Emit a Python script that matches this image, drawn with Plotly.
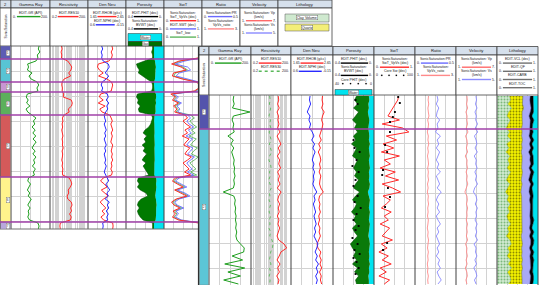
import math
import plotly.graph_objects as go

# ======================= DATA : window 1 (back panel) =======================
DEPTH_1 = [1000, 1003, 1006, 1009, 1012, 1015, 1018, 1021, 1024, 1027,
           1030, 1033, 1036, 1039, 1042, 1045, 1048, 1051, 1054, 1057,
           1060, 1063, 1066, 1069, 1072, 1075, 1078, 1081, 1084, 1087,
           1090, 1093, 1096, 1099, 1102, 1105, 1108, 1111, 1114, 1117,
           1120, 1123, 1126, 1129, 1132, 1135, 1138, 1141, 1144, 1147,
           1150, 1153, 1156, 1159, 1162, 1165, 1168, 1171, 1174, 1177,
           1180, 1183]
ZONE_TOPS_1 = [1000, 1013, 1036, 1046, 1069, 1131, 1176]
ZONE_BASE_1 = 1183
ZONE_LABELS_1 = ["1", "2", "3", "4", "5", "6", "7"]

GR_1 = [144, 140, 148, 135, 138, 128, 85, 90, 84, 108,
        92, 103, 134, 142, 133, 138, 84, 78, 88, 80,
        97, 77, 86, 110, 128, 115, 122, 108, 124, 112,
        127, 113, 129, 117, 108, 124, 112, 128, 116, 122,
        110, 125, 115, 120, 90, 86, 100, 92, 84, 96,
        88, 104, 93, 86, 98, 88, 92, 86, 95, 138,
        144, 140]
RES_1 = [1.6, 1.8, 1.5, 1.7, 1.6, 5.0, 7.5, 10.5, 9.0, 6.0,
         8.5, 2.6, 1.8, 1.7, 1.9, 1.8, 2.4, 2.2, 9.5, 11.5,
         10.0, 5.5, 6.5, 2.6, 1.9, 2.1, 1.8, 2.0, 1.7, 1.9,
         2.1, 1.8, 2.0, 1.9, 2.2, 1.8, 2.0, 1.9, 1.7, 2.0,
         1.8, 2.1, 1.9, 2.0, 6.5, 9.0, 10.5, 8.0, 5.5, 6.0,
         4.5, 5.0, 9.5, 11.0, 8.5, 10.0, 7.0, 9.5, 8.0, 1.3,
         1.2, 1.3]
RHOB_1 = [2.28, 2.30, 2.26, 2.29, 2.27, 2.20, 1.92, 1.90, 1.95, 2.05,
          1.93, 2.15, 2.27, 2.30, 2.28, 2.26, 1.98, 1.95, 2.05, 1.92,
          2.10, 1.96, 2.02, 2.22, 2.26, 2.29, 2.25, 2.28, 2.30, 2.26,
          2.29, 2.27, 2.25, 2.30, 2.28, 2.26, 2.29, 2.27, 2.30, 2.26,
          2.28, 2.25, 2.29, 2.27, 2.05, 1.98, 2.08, 2.15, 2.00, 2.10,
          2.18, 2.06, 1.97, 2.04, 2.12, 2.02, 2.09, 1.99, 2.06, 2.30,
          2.31, 2.30]
NPHI_1 = [0.33, 0.31, 0.34, 0.32, 0.33, 0.30, 0.20, 0.18, 0.22, 0.26,
          0.19, 0.24, 0.32, 0.34, 0.31, 0.33, 0.22, 0.20, 0.24, 0.19,
          0.23, 0.21, 0.25, 0.28, 0.27, 0.25, 0.28, 0.26, 0.24, 0.27,
          0.25, 0.28, 0.26, 0.24, 0.27, 0.25, 0.28, 0.26, 0.25, 0.27,
          0.24, 0.26, 0.28, 0.25, 0.22, 0.19, 0.25, 0.21, 0.17, 0.23,
          0.20, 0.26, 0.18, 0.22, 0.19, 0.24, 0.20, 0.23, 0.21, 0.31,
          0.30, 0.31]
PHIT_1 = [0.12, 0.12, 0.13, 0.12, 0.12, 0.20, 0.29, 0.28, 0.26, 0.27,
          0.23, 0.18, 0.13, 0.12, 0.12, 0.13, 0.28, 0.29, 0.27, 0.28,
          0.25, 0.27, 0.26, 0.13, 0.12, 0.13, 0.14, 0.16, 0.20, 0.22,
          0.18, 0.21, 0.19, 0.23, 0.20, 0.22, 0.18, 0.21, 0.23, 0.19,
          0.22, 0.20, 0.18, 0.16, 0.27, 0.28, 0.26, 0.28, 0.25, 0.19,
          0.17, 0.24, 0.27, 0.28, 0.26, 0.28, 0.27, 0.25, 0.22, 0.12,
          0.12, 0.12]
BVWT_1 = [0.105, 0.105, 0.105, 0.105, 0.105, 0.095, 0.090, 0.085, 0.090, 0.088,
          0.092, 0.095, 0.105, 0.105, 0.105, 0.100, 0.085, 0.082, 0.088, 0.084,
          0.090, 0.086, 0.088, 0.100, 0.105, 0.104, 0.102, 0.100, 0.098, 0.100,
          0.102, 0.099, 0.100, 0.098, 0.101, 0.099, 0.102, 0.100, 0.098, 0.101,
          0.099, 0.100, 0.102, 0.103, 0.082, 0.080, 0.084, 0.080, 0.083, 0.090,
          0.092, 0.085, 0.080, 0.078, 0.082, 0.080, 0.083, 0.085, 0.088, 0.105,
          0.105, 0.105]
SWT_VPVS_1 = [0.95, 0.97, 0.93, 0.96, 0.90, 0.40, 0.20, 0.45, 0.58, 0.25,
              0.22, 0.48, 0.85, 0.95, 0.92, 0.80, 0.18, 0.30, 0.22, 0.38,
              0.25, 0.34, 0.28, 0.55, 0.62, 0.50, 0.58, 0.70, 0.55, 0.62,
              0.48, 0.66, 0.58, 0.52, 0.68, 0.60, 0.55, 0.72, 0.62, 0.50,
              0.58, 0.66, 0.54, 0.70, 0.30, 0.22, 0.35, 0.50, 0.28, 0.45,
              0.60, 0.32, 0.20, 0.26, 0.42, 0.24, 0.30, 0.22, 0.38, 0.92,
              0.96, 0.94]
SWT_EDIT_1 = [0.98, 1.00, 0.97, 0.99, 0.95, 0.55, 0.30, 0.62, 0.70, 0.40,
              0.32, 0.60, 0.92, 0.98, 0.97, 0.88, 0.25, 0.38, 0.30, 0.46,
              0.34, 0.42, 0.36, 0.62, 0.70, 0.60, 0.66, 0.78, 0.64, 0.72,
              0.58, 0.75, 0.66, 0.60, 0.76, 0.70, 0.62, 0.80, 0.70, 0.60,
              0.66, 0.74, 0.62, 0.78, 0.40, 0.30, 0.45, 0.60, 0.35, 0.55,
              0.68, 0.40, 0.28, 0.34, 0.52, 0.32, 0.38, 0.30, 0.46, 0.97,
              0.99, 0.98]
SWT_LOW_1 = [0.96, 0.98, 0.95, 0.97, 0.92, 0.45, 0.24, 0.50, 0.62, 0.30,
             0.26, 0.52, 0.88, 0.96, 0.94, 0.84, 0.22, 0.33, 0.26, 0.42,
             0.29, 0.38, 0.32, 0.70, 0.80, 0.68, 0.75, 0.86, 0.72, 0.82,
             0.66, 0.85, 0.76, 0.70, 0.88, 0.78, 0.72, 0.90, 0.80, 0.68,
             0.76, 0.84, 0.70, 0.86, 0.34, 0.25, 0.40, 0.55, 0.30, 0.50,
             0.64, 0.36, 0.23, 0.30, 0.47, 0.28, 0.34, 0.26, 0.42, 0.95,
             0.97, 0.96]

# ======================= DATA : window 2 (front panel) =======================
DEPTH_2 = [1028, 1032, 1036, 1040, 1044, 1048, 1052, 1056, 1060, 1064,
           1068, 1072, 1076, 1080, 1084, 1088, 1092, 1096, 1100, 1104,
           1108, 1112, 1116, 1120, 1124, 1128, 1132, 1136, 1140, 1144,
           1148, 1152, 1156, 1160, 1164, 1168, 1172, 1176, 1180, 1184,
           1188, 1192, 1196, 1200, 1204, 1208, 1212, 1216]
ZONE_TOPS_2 = [1027, 1061]
ZONE_BASE_2 = 1217
ZONE_LABELS_2 = ["1", "2"]

GR_2 = [118, 115, 120, 112, 195, 116, 110, 118, 114, 120,
        90, 116, 104, 118, 108, 115, 120, 117, 122, 119,
        124, 118, 121, 116, 68, 118, 125, 122, 127, 124,
        129, 126, 130, 127, 132, 128, 133, 150, 168, 165,
        110, 160, 75, 170, 90, 150, 70, 140]
RES_DEEP_2 = [22, 24, 20, 26, 18, 23, 21, 25, 20, 30,
              18, 26, 35, 22, 30, 19, 28, 24, 33, 20,
              27, 22, 30, 19, 36, 24, 20, 28, 22, 26,
              19, 25, 21, 28, 23, 18, 24, 60, 95, 35,
              26, 18, 30, 20, 27, 17, 25, 21]
RES_SHAL_2 = [5.0, 5.5, 4.8, 6.0, 5.2, 4.5, 5.8, 5.0, 6.2, 4.6,
              5.4, 6.5, 4.8, 5.6, 7.0, 5.0, 4.4, 5.8, 6.4, 4.9,
              5.5, 4.3, 5.7, 6.6, 4.7, 5.2, 4.5, 6.1, 5.0, 4.6,
              5.9, 4.8, 5.3, 4.4, 6.0, 5.1, 7.5, 9.0, 8.0, 6.0,
              5.5, 4.8, 6.3, 5.0, 5.8, 4.6, 5.4, 5.0]
RHOB_2 = [2.40, 2.39, 2.41, 2.38, 2.44, 2.40, 2.38, 2.41, 2.39, 2.36,
          2.33, 2.37, 2.31, 2.35, 2.30, 2.34, 2.36, 2.33, 2.35, 2.32,
          2.36, 2.34, 2.33, 2.36, 2.42, 2.33, 2.31, 2.34, 2.32, 2.35,
          2.31, 2.33, 2.30, 2.34, 2.32, 2.35, 2.31, 2.27, 2.29, 2.36,
          2.33, 2.37, 2.34, 2.38, 2.33, 2.37, 2.35, 2.38]
NPHI_2 = [0.26, 0.27, 0.25, 0.28, 0.31, 0.26, 0.28, 0.25, 0.27, 0.22,
          0.19, 0.23, 0.18, 0.21, 0.17, 0.20, 0.22, 0.19, 0.21, 0.18,
          0.20, 0.19, 0.21, 0.18, 0.14, 0.19, 0.17, 0.20, 0.18, 0.16,
          0.19, 0.17, 0.15, 0.18, 0.16, 0.19, 0.15, 0.12, 0.14, 0.17,
          0.13, 0.16, 0.11, 0.15, 0.12, 0.16, 0.13, 0.15]
PHIT_2 = [0.17, 0.19, 0.16, 0.20, 0.15, 0.18, 0.21, 0.17, 0.19, 0.16,
          0.20, 0.18, 0.22, 0.17, 0.19, 0.21, 0.16, 0.18, 0.20, 0.17,
          0.19, 0.15, 0.18, 0.20, 0.14, 0.18, 0.21, 0.17, 0.19, 0.22,
          0.18, 0.20, 0.17, 0.21, 0.19, 0.16, 0.20, 0.23, 0.21, 0.18,
          0.20, 0.17, 0.21, 0.16, 0.19, 0.15, 0.18, 0.17]
BVWT_2 = [0.050, 0.045, 0.055, 0.050, 0.060, 0.050, 0.045, 0.050, 0.055, 0.050,
          0.045, 0.050, 0.040, 0.050, 0.045, 0.040, 0.050, 0.045, 0.040, 0.050,
          0.045, 0.050, 0.040, 0.045, 0.060, 0.050, 0.040, 0.045, 0.050, 0.040,
          0.045, 0.050, 0.040, 0.045, 0.050, 0.055, 0.045, 0.040, 0.045, 0.050,
          0.045, 0.050, 0.040, 0.050, 0.045, 0.055, 0.050, 0.050]
SWT_2 = [0.60, 0.58, 0.52, 0.45, 0.40, 0.34, 0.62, 0.20, 0.70, 0.85,
         0.30, 0.55, 0.22, 0.48, 0.18, 0.62, 0.25, 0.40, 0.15, 0.52,
         0.28, 0.60, 0.20, 0.45, 0.65, 0.22, 0.40, 0.30, 0.18, 0.42,
         0.25, 0.35, 0.15, 0.38, 0.28, 0.20, 0.45, 0.18, 0.32, 0.12,
         0.35, 0.20, 0.42, 0.15, 0.30, 0.12, 0.38, 0.25]
CORE_PHI_DEPTH_2 = [1032, 1036, 1072, 1080, 1084, 1092, 1098, 1104, 1112, 1118,
                    1128, 1134, 1140, 1146, 1152, 1158, 1162, 1170, 1176, 1182,
                    1186, 1190, 1194, 1200, 1206]
CORE_PHI_2 = [18, 16, 20, 19, 14, 17, 21, 15, 18, 20,
              16, 19, 13, 17, 20, 15, 18, 21, 16, 19,
              14, 20, 17, 15, 18]
CORE_SW_DEPTH_2 = [1029, 1035, 1044, 1049, 1054, 1064, 1077, 1084, 1102, 1107,
                   1120, 1129, 1139, 1175, 1182]
CORE_SW_2 = [59, 63, 51, 46, 39, 39, 27, 32, 22, 20, 34, 39, 27, 32, 22]
PR_2 = [0.27, 0.28, 0.26, 0.29, 0.27, 0.26, 0.30, 0.27, 0.28, 0.25,
        0.31, 0.27, 0.29, 0.26, 0.30, 0.28, 0.26, 0.29, 0.27, 0.31,
        0.26, 0.28, 0.30, 0.27, 0.32, 0.28, 0.26, 0.29, 0.27, 0.30,
        0.26, 0.28, 0.31, 0.27, 0.29, 0.26, 0.28, 0.30, 0.27, 0.29,
        0.26, 0.30, 0.28, 0.31, 0.27, 0.29, 0.32, 0.28]
VPVS_2 = [1.66, 1.64, 1.67, 1.63, 1.65, 1.68, 1.62, 1.66, 1.64, 1.60,
          1.65, 1.63, 1.67, 1.62, 1.65, 1.61, 1.64, 1.66, 1.62, 1.65,
          1.63, 1.66, 1.61, 1.64, 1.60, 1.65, 1.63, 1.66, 1.62, 1.64,
          1.61, 1.65, 1.63, 1.60, 1.64, 1.62, 1.66, 1.63, 1.61, 1.65,
          1.62, 1.64, 1.60, 1.63, 1.61, 1.65, 1.62, 1.64]
VP_2 = [2.60, 2.65, 2.55, 2.70, 2.45, 2.62, 2.58, 2.68, 2.50, 2.75,
        2.40, 2.60, 2.66, 2.52, 2.70, 2.35, 2.62, 2.58, 2.68, 2.48,
        2.64, 2.56, 2.72, 2.45, 2.30, 2.60, 2.66, 2.54, 2.70, 2.58,
        2.62, 2.50, 2.68, 2.56, 2.64, 2.52, 2.70, 2.40, 2.60, 2.55,
        2.66, 2.48, 2.62, 2.36, 2.58, 2.66, 2.45, 2.60]
VS_2 = [2.95, 3.00, 2.90, 3.05, 2.85, 2.98, 2.92, 3.10, 2.88, 3.12,
        2.80, 2.96, 3.04, 2.86, 3.08, 2.78, 2.98, 2.92, 3.06, 2.84,
        3.00, 2.90, 3.10, 2.82, 2.70, 2.96, 3.04, 2.88, 3.08, 2.94,
        3.00, 2.86, 3.06, 2.92, 3.02, 2.88, 3.10, 2.76, 2.96, 2.90,
        3.04, 2.84, 3.00, 2.74, 2.94, 3.04, 2.80, 2.96]
VCL_2 = [0.30, 0.33, 0.26, 0.36, 0.28, 0.24, 0.32, 0.27, 0.22, 0.30,
         0.25, 0.34, 0.23, 0.29, 0.21, 0.31, 0.26, 0.30, 0.24, 0.33,
         0.27, 0.22, 0.31, 0.25, 0.20, 0.28, 0.24, 0.32, 0.26, 0.30,
         0.23, 0.27, 0.33, 0.25, 0.29, 0.22, 0.31, 0.35, 0.26, 0.30,
         0.24, 0.33, 0.27, 0.36, 0.25, 0.31, 0.34, 0.28]
QF_2 = [0.33, 0.30, 0.36, 0.29, 0.33, 0.37, 0.30, 0.35, 0.38, 0.31,
        0.35, 0.28, 0.37, 0.32, 0.38, 0.30, 0.35, 0.31, 0.36, 0.29,
        0.34, 0.37, 0.30, 0.35, 0.38, 0.32, 0.36, 0.29, 0.34, 0.31,
        0.37, 0.33, 0.28, 0.35, 0.32, 0.37, 0.30, 0.27, 0.34, 0.31,
        0.36, 0.29, 0.33, 0.26, 0.35, 0.30, 0.27, 0.33]
CARB_2 = [0.18, 0.17, 0.19, 0.18, 0.20, 0.17, 0.19, 0.18, 0.20, 0.19,
          0.18, 0.20, 0.19, 0.21, 0.18, 0.20, 0.19, 0.21, 0.18, 0.20,
          0.19, 0.18, 0.21, 0.19, 0.20, 0.21, 0.19, 0.20, 0.21, 0.19,
          0.20, 0.21, 0.20, 0.19, 0.21, 0.20, 0.21, 0.20, 0.19, 0.21,
          0.20, 0.19, 0.21, 0.20, 0.19, 0.21, 0.20, 0.19]
TOC_2 = [0.07, 0.08, 0.07, 0.06, 0.08, 0.07, 0.09, 0.07, 0.06, 0.08,
         0.07, 0.08, 0.06, 0.07, 0.08, 0.07, 0.09, 0.07, 0.06, 0.08,
         0.07, 0.08, 0.07, 0.06, 0.09, 0.07, 0.08, 0.06, 0.07, 0.08,
         0.07, 0.09, 0.07, 0.06, 0.08, 0.07, 0.08, 0.07, 0.06, 0.08,
         0.07, 0.09, 0.07, 0.06, 0.08, 0.07, 0.08, 0.07]

TRACK_TITLES = ["Gamma Ray", "Resistivity", "Den Neu", "Porosity", "SwT",
                "Ratio", "Velocity", "Lithology"]

# ======================= geometry / styles =======================
W, H = 540, 285
def X(p): return p / W
def Y(p): return 1 - p / H

FONT = "Liberation Sans"
GREEN, RED, BLUE = "#1f9e1f", "#ff2a2a", "#2a2aff"
CYAN = "#00e4f0"
PURPLE = "#a040a8"
SEP = "#404040"
GRID = "#d2d2d2"

B1 = [0, 11, 50, 88, 126, 164, 202, 240, 278, 332]     # window 1 columns
B2 = [199, 209, 251, 291, 333, 374, 415, 456, 497, 538]  # window 2 columns
W1_TITLE, W1_HEAD, W1_BOT = (0, 8), 46, 229
W2_TITLE, W2_HEAD, W2_BOT = (46.5, 55), 95, 285
CLIP1 = 198

fig = go.Figure()
AX = {}
_n = [0]

def new_x(x0, x1, rng, anchor, typ="linear", dtick=None, overlay=None):
    _n[0] += 1
    i = _n[0]
    key = "xaxis" if i == 1 else "xaxis%d" % i
    ref = "x" if i == 1 else "x%d" % i
    d = dict(domain=[X(x0), X(x1)], range=rng, type=typ, anchor=anchor,
             showticklabels=False, ticks="", zeroline=False, showline=False,
             fixedrange=True)
    if overlay:
        d.update(overlaying=overlay, showgrid=False, visible=False)
    else:
        d.update(showgrid=True, gridcolor=GRID, gridwidth=0.6, dtick=dtick)
        if typ == "linear":
            d["tick0"] = min(rng)
    AX[key] = d
    return ref

def add_line(xs, ys, xa, ya, color, width=1.0, dash="solid"):
    fig.add_trace(go.Scatter(x=xs, y=ys, xaxis=xa, yaxis=ya, mode="lines",
                             line=dict(color=color, width=width, dash=dash),
                             showlegend=False, hoverinfo="skip"))

def add_fill(xs, ys, xa, ya, fill, color, lcolor=None, width=0, pattern=None):
    kw = dict(x=xs, y=ys, xaxis=xa, yaxis=ya, mode="lines", fill=fill,
              fillcolor=color, line=dict(color=lcolor or color, width=width),
              showlegend=False, hoverinfo="skip")
    if pattern:
        kw["fillpattern"] = pattern
    fig.add_trace(go.Scatter(**kw))

LOGR = [math.log10(0.2), math.log10(200)]

# ---- window 1 tracks ----
xg1 = new_x(11, 50, [0, 200], "y", dtick=50)
xr1 = new_x(50, 88, LOGR, "y", typ="log", dtick="D1")
xd1 = new_x(88, 126, [1.65, 2.65], "y", dtick=0.25)
xn1 = new_x(88, 126, [0.6, -0.15], "y", overlay=xd1)
xp1 = new_x(126, 164, [0.4, 0.0], "y", dtick=0.1)
xs1 = new_x(164, CLIP1, [0.0, (CLIP1 - 164) / 38.0], "y", dtick=0.25)

# ---- window 2 tracks ----
xg2 = new_x(209, 251, [0, 200], "y2", dtick=50)
xr2 = new_x(251, 291, LOGR, "y2", typ="log", dtick="D1")
xd2 = new_x(291, 333, [1.65, 2.65], "y2", dtick=0.25)
xn2 = new_x(291, 333, [0.6, -0.15], "y2", overlay=xd2)
xp2 = new_x(333, 374, [0.4, 0.0], "y2", dtick=0.1)
xc2 = new_x(333, 374, [40, 0], "y2", overlay=xp2)
xs2 = new_x(374, 415, [0, 1], "y2", dtick=0.25)
xcs2 = new_x(374, 415, [0, 100], "y2", overlay=xs2)
xpr2 = new_x(415, 456, [0, 0.5], "y2", dtick=0.125)
xvv2 = new_x(415, 456, [1, 3], "y2", overlay=xpr2)
xvp2 = new_x(456, 497, [1, 7], "y2", dtick=1.5)
xvs2 = new_x(456, 497, [1, 5], "y2", overlay=xvp2)
xl2 = new_x(497, 538, [0, 1], "y2", dtick=0.25)

# ---- window 1 curves ----
add_line(GR_1, DEPTH_1, xg1, "y", GREEN)
add_line(RES_1, DEPTH_1, xr1, "y", RED)
add_line(RHOB_1, DEPTH_1, xd1, "y", RED)
add_line(NPHI_1, DEPTH_1, xn1, "y", BLUE)
add_fill(BVWT_1, DEPTH_1, xp1, "y", "tozerox", CYAN)
add_fill(PHIT_1, DEPTH_1, xp1, "y", "tonextx", "#007a00", lcolor="#004d00", width=0.6)
add_line(SWT_LOW_1, DEPTH_1, xs1, "y", "#5fb55f", 0.9)
add_line(SWT_EDIT_1, DEPTH_1, xs1, "y", "#6a6aff", 0.9)
add_line(SWT_VPVS_1, DEPTH_1, xs1, "y", RED, 1.0)

# ---- window 2 curves ----
add_line(GR_2, DEPTH_2, xg2, "y2", GREEN)
add_line(RES_SHAL_2, DEPTH_2, xr2, "y2", "#5ab85a", 0.9, "dot")
add_line(RES_DEEP_2, DEPTH_2, xr2, "y2", RED)
add_line(RHOB_2, DEPTH_2, xd2, "y2", RED)
add_line(NPHI_2, DEPTH_2, xn2, "y2", BLUE)
add_fill(BVWT_2, DEPTH_2, xp2, "y2", "tozerox", CYAN)
add_fill(PHIT_2, DEPTH_2, xp2, "y2", "tonextx", "#0a7a0a", lcolor="#004d00", width=0.6)
fig.add_trace(go.Scatter(x=CORE_PHI_2, y=CORE_PHI_DEPTH_2, xaxis=xc2, yaxis="y2",
                         mode="markers", marker=dict(color="black", size=1.9, symbol="square"),
                         showlegend=False, hoverinfo="skip"))
add_line(SWT_2, DEPTH_2, xs2, "y2", RED, 1.0)
fig.add_trace(go.Scatter(x=CORE_SW_2, y=CORE_SW_DEPTH_2, xaxis=xcs2, yaxis="y2",
                         mode="markers", marker=dict(color="black", size=1.9, symbol="square"),
                         showlegend=False, hoverinfo="skip"))
add_line(PR_2, DEPTH_2, xpr2, "y2", "#8a8aff", 0.9)
add_line(VPVS_2, DEPTH_2, xvv2, "y2", "#ff8a8a", 0.9)
add_line(VP_2, DEPTH_2, xvp2, "y2", "#ff8a8a", 0.9)
add_line(VS_2, DEPTH_2, xvs2, "y2", "#8a8aff", 0.9)

cum1 = VCL_2
cum2 = [a + b for a, b in zip(cum1, QF_2)]
cum3 = [a + b for a, b in zip(cum2, CARB_2)]
cum4 = [a + b for a, b in zip(cum3, TOC_2)]
phie = [1.0 - c for c in cum4]
cum5 = [a + b for a, b in zip(cum4, phie)]
add_fill(cum1, DEPTH_2, xl2, "y2", "tozerox", "#d3ebd3", lcolor="#6aa86a", width=0.4,
         pattern=dict(shape=".", bgcolor="#d3ebd3", fgcolor="#7cb87c", size=3, solidity=0.35, fillmode="replace"))
add_fill(cum2, DEPTH_2, xl2, "y2", "tonextx", "#f2f000", lcolor="#6a6a00", width=0.5,
         pattern=dict(shape=".", bgcolor="#f4f200", fgcolor="#8c8a00", size=3, solidity=0.3, fillmode="replace"))
add_fill(cum3, DEPTH_2, xl2, "y2", "tonextx", "#a9a9f6", lcolor="#5050a0", width=0.5)
add_fill(cum4, DEPTH_2, xl2, "y2", "tonextx", "#000000", lcolor="#000000", width=0.5)
add_fill(cum5, DEPTH_2, xl2, "y2", "tonextx", CYAN)

# ======================= frames, headers, zones =======================
shapes, annots = [], []

def rect(x0, y0, x1, y1, fill, line="#404040", lw=0.6):
    shapes.append(dict(type="rect", xref="paper", yref="paper", x0=X(x0), x1=X(x1),
                       y0=Y(y1), y1=Y(y0), fillcolor=fill, line=dict(color=line, width=lw),
                       layer="above"))

def seg(x0, x1, y0, y1, color, w=1.0, dash="solid"):
    shapes.append(dict(type="line", xref="paper", yref="paper", x0=X(x0), x1=X(x1),
                       y0=Y(y0), y1=Y(y1), line=dict(color=color, width=w, dash=dash),
                       layer="above"))

def txt(x, y, s, size=3.5, anchor="center", angle=0, bg=None, color="#1a1a1a"):
    a = dict(x=X(x), y=Y(y), xref="paper", yref="paper", text=s, showarrow=False,
             font=dict(size=size, color=color, family=FONT), xanchor=anchor,
             yanchor="middle", textangle=angle, borderpad=0)
    if bg:
        a.update(bgcolor=bg, bordercolor="#555555", borderwidth=0.4, borderpad=0.3)
    annots.append(a)

def header_items(L, R, items, y0):
    cx, cy = (L + R) / 2, y0
    for it in items:
        if it[0] == "t":
            txt(cx, cy, it[1])
        elif it[0] == "l":
            _, col, dash, lo, hi = it
            txt(L + 0.6, cy, lo, anchor="left")
            txt(R - 0.6, cy, hi, anchor="right")
            seg(L + 2.3 + 1.8 * len(lo), R - 2.3 - 1.8 * len(hi), cy, cy, col, 1.4, dash)
        elif it[0] == "d":
            _, lo, hi = it
            txt(L + 0.6, cy, lo, anchor="left")
            txt(R - 0.6, cy, hi, anchor="right")
            a, b = L + 2.3 + 1.8 * len(lo), R - 2.3 - 1.8 * len(hi)
            for k in range(4):
                xx = a + (b - a) * (k + 0.5) / 4
                rect(xx - 0.6, cy - 0.6, xx + 0.6, cy + 0.6, "#000000", "#000000", 0.2)
        cy += 4.1

HDR_1 = [
    [("t", "EDIT-GR (API)"), ("l", GREEN, "solid", "0.", "200.")],
    [("t", "EDIT-RES10"), ("l", RED, "solid", "0.2", "200.")],
    [("t", "EDIT-RHOB (g/cc)"), ("l", RED, "solid", "1.65", "2.65"),
     ("t", "EDIT-NPHI (dec)"), ("l", BLUE, "solid", "0.6", "-0.15")],
    [("t", "EDIT-PHIT (dec)"), ("l", "#000000", "solid", "0.4", "0."),
     ("t", "SonicSaturation:"), ("t", "BVWT (dec)"), ("l", "#000000", "solid", "0.4", "0.")],
    [("t", "SonicSaturation:"), ("t", "SwT_VpVs (dec)"), ("l", RED, "solid", "0.", "1."),
     ("t", "EDIT-SWT (dec)"), ("l", "#6a6aff", "solid", "0.", "1."),
     ("t", "SwT_low"), ("l", "#5fb55f", "solid", "0.", "1.")],
    [("t", "SonicSaturation:PR"), ("l", "#6a6aff", "solid", "0.", "0.5"),
     ("t", "SonicSaturation:"), ("t", "VpVs_ratio"), ("l", "#ff8a8a", "solid", "1.", "3.")],
    [("t", "SonicSaturation: Vp"), ("t", "(km/s)"), ("l", "#ff6a6a", "solid", "1.", "7."),
     ("t", "SonicSaturation: Vs"), ("t", "(km/s)"), ("l", "#8a8aff", "solid", "1.", "5.")],
    [],
]
HDR_2 = [
    [("t", "EDIT-GR (API)"), ("l", GREEN, "solid", "0.", "200.")],
    [("t", "EDIT-RES10"), ("l", RED, "solid", "0.2", "200."),
     ("t", "EDIT-RES30"), ("l", "#5ab85a", "dot", "0.2", "200.")],
    [("t", "EDIT-RHOB (g/cc)"), ("l", RED, "solid", "1.65", "2.65"),
     ("t", "EDIT-NPHI (dec)"), ("l", BLUE, "solid", "0.6", "-0.15")],
    [("t", "EDIT-PHIT (dec)"), ("l", "#000000", "solid", "0.4", "0."),
     ("t", "SonicSaturation:"), ("t", "BVWT (dec)"), ("l", "#000000", "solid", "0.4", "0."),
     ("t", "Core PHIT (dec)"), ("d", "40", "0")],
    [("t", "SonicSaturation:"), ("t", "SwT_VpVs (dec)"), ("l", RED, "solid", "0.", "1."),
     ("t", "Core Sw (dec)"), ("d", "0", "100")],
    [("t", "SonicSaturation:PR"), ("l", "#6a6aff", "solid", "0.", "0.5"),
     ("t", "SonicSaturation:"), ("t", "VpVs_ratio"), ("l", "#ff8a8a", "solid", "1.", "3.")],
    [("t", "SonicSaturation: Vp"), ("t", "(km/s)"), ("l", "#ff6a6a", "solid", "1.", "7."),
     ("t", "SonicSaturation: Vs"), ("t", "(km/s)"), ("l", "#8a8aff", "solid", "1.", "5.")],
    [("t", "EDIT-VCL (dec)"), ("l", "#707070", "solid", "0.", "1."),
     ("t", "EDIT-QF"), ("l", "#707070", "solid", "0.", "1."),
     ("t", "EDIT-CARB"), ("l", "#707070", "solid", "0.", "1."),
     ("t", "EDIT-TOC"), ("l", "#707070", "solid", "0.", "1.")],
]

def draw_window_header(B, title, head_bot, hdr, y0):
    t0, t1 = title
    for k in range(len(B) - 1):
        L, R = B[k], B[k + 1]
        rect(L, t0, R, t1, "#d6e0ec", SEP, 0.8)
        rect(L, t1, R, head_bot, "#ffffff", SEP, 0.8)
        if k == 0:
            txt((L + R) / 2, (t0 + t1) / 2, "2", size=4)
            txt((L + R) / 2, (t1 + head_bot) / 2, "SonicSaturation", size=3.4, angle=-90)
        else:
            txt((L + R) / 2, (t0 + t1) / 2, TRACK_TITLES[k - 1], size=4.2)
            header_items(L, R, hdr[k - 1], y0)

draw_window_header(B1, W1_TITLE, W1_HEAD, HDR_1, 12.5)
draw_window_header(B2, W2_TITLE, W2_HEAD, HDR_2, 59)

# porosity legend boxes
rect(128, 33.5, 162, 41.5, CYAN, "#333333", 0.5)
txt(145, 37.5, "Water", size=3.4, bg="#ffffff")
rect(128, 41.5, 162, 46, "#007000", "#333333", 0.5)
txt(145, 43.8, "Gas", size=3.0, bg="#ffffff")
rect(335, 89.5, 372, 95, CYAN, "#333333", 0.5)
txt(353.5, 92.3, "Water", size=3.4, bg="#ffffff")
# lithology legend (window 1)
rect(285, 14, 329, 22, "#cfe9cf", "#555555", 0.5)
txt(307, 18, "Clay Volume", size=3.6, bg="#ffffff")
rect(285, 24, 329, 31, "#f3ee78", "#555555", 0.5)
txt(307, 27.5, "Quartz", size=3.6, bg="#ffffff")

# data-area separators
for x in B1[:6]:
    xx = 0.5 if x == 0 else x
    seg(xx, xx, W1_HEAD, W1_BOT, SEP, 1.0)
seg(0, CLIP1, W1_BOT, W1_BOT, "#707070", 1.0)
for x in B2:
    seg(x, x, W2_HEAD, W2_BOT, SEP, 1.0)
seg(198.5, 198.5, 46.5, 285, "#303030", 1.2)

# zones
ZC1 = ["#5c5cb4", "#58c4d4", "#c896d2", "#5cb05c", "#d45a5a", "#fff38c", "#b8a8dc"]
ZC2 = ["#5454ac", "#5cc6d6"]

def draw_zones(tops, base, labels, colors, xl, xr, yref, line_x0, line_x1):
    bounds = tops + [base]
    for k in range(len(tops)):
        shapes.append(dict(type="rect", xref="paper", yref=yref, x0=X(xl), x1=X(xr),
                           y0=bounds[k], y1=bounds[k + 1], fillcolor=colors[k],
                           line=dict(color="#777777", width=0.4), layer="above"))
        annots.append(dict(x=X((xl + xr) / 2), y=(bounds[k] + bounds[k + 1]) / 2, xref="paper",
                           yref=yref, text=labels[k], showarrow=False,
                           font=dict(size=3.2, color="#333333", family=FONT),
                           bgcolor="#ffffff", bordercolor="#666666", borderwidth=0.4, borderpad=0.4))
    for t in tops[1:]:
        shapes.append(dict(type="line", xref="paper", yref=yref, x0=X(line_x0), x1=X(line_x1),
                           y0=t, y1=t, line=dict(color=PURPLE, width=1.3), layer="above"))

draw_zones(ZONE_TOPS_1, ZONE_BASE_1, ZONE_LABELS_1, ZC1, 0.5, 10.5, "y", 0, CLIP1)
draw_zones(ZONE_TOPS_2, ZONE_BASE_2, ZONE_LABELS_2, ZC2, 199.5, 208.5, "y2", 199, 538)

fig.update_layout(
    width=W, height=H, margin=dict(l=0, r=0, t=0, b=0, pad=0),
    paper_bgcolor="#ffffff", plot_bgcolor="#ffffff",
    showlegend=False, hovermode=False,
    shapes=shapes, annotations=annots,
    yaxis=dict(domain=[Y(W1_BOT), Y(W1_HEAD)], range=[ZONE_BASE_1, ZONE_TOPS_1[0]], anchor="x",
               showticklabels=False, ticks="", zeroline=False, showline=False,
               showgrid=True, gridcolor=GRID, gridwidth=0.6, dtick=25, tick0=1000, fixedrange=True),
    yaxis2=dict(domain=[Y(W2_BOT), Y(W2_HEAD)], range=[ZONE_BASE_2, ZONE_TOPS_2[0]], anchor=xg2,
                showticklabels=False, ticks="", zeroline=False, showline=False,
                showgrid=True, gridcolor=GRID, gridwidth=0.6, dtick=25, tick0=1000, fixedrange=True),
    **AX,
)

fig.write_html("out.html")
